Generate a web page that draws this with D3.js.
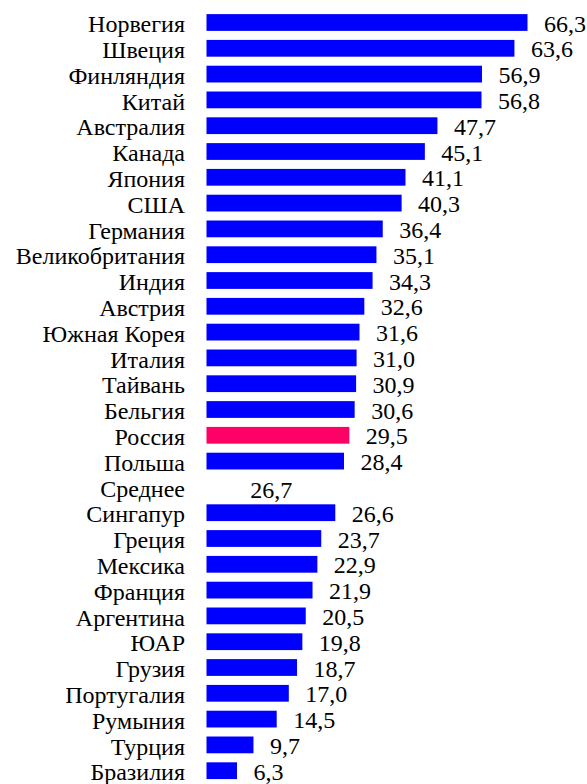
<!DOCTYPE html>
<html>
<head>
<meta charset="utf-8">
<script src="https://d3js.org/d3.v7.min.js"></script>
<style>
  body { margin: 0; background: #fff; }
</style>
</head>
<body>
<div id="chart"></div>
<script>
var countries = ["Норвегия", "Швеция", "Финляндия", "Китай", "Австралия", "Канада", "Япония", "США",
  "Германия", "Великобритания", "Индия", "Австрия", "Южная Корея", "Италия", "Тайвань", "Бельгия",
  "Россия", "Польша", "Среднее", "Сингапур", "Греция", "Мексика", "Франция", "Аргентина", "ЮАР",
  "Грузия", "Португалия", "Румыния", "Турция", "Бразилия"];
var values = [66.3, 63.6, 56.9, 56.8, 47.7, 45.1, 41.1, 40.3, 36.4, 35.1, 34.3, 32.6, 31.6, 31.0, 30.9, 30.6,
  29.5, 28.4, 26.7, 26.6, 23.7, 22.9, 21.9, 20.5, 19.8, 18.7, 17.0, 14.5, 9.7, 6.3];
var highlight = "Россия";
var average = "Среднее";

var width = 587, height = 784;
var font = "'Liberation Serif', 'Times New Roman', serif";

var data = countries.map(function(c, i) { return { name: c, value: values[i] }; });

var svg = d3.select("#chart").append("svg").attr("width", width).attr("height", height);

var x = d3.scaleLinear().domain([0, 66.3]).range([206.5, 527.5]);
var y = d3.scaleBand().domain(countries).range([9.6, 783.6]).paddingInner(0.35).paddingOuter(0.175);

var fmt = function(v) { return d3.format(".1f")(v).replace(".", ","); };

// bars (no bar for the average row)
svg.selectAll("rect.bar")
  .data(data.filter(function(d) { return d.name !== average; }))
  .enter().append("rect")
  .attr("class", "bar")
  .attr("x", x(0))
  .attr("y", function(d) { return y(d.name); })
  .attr("width", function(d) { return x(d.value) - x(0); })
  .attr("height", y.bandwidth())
  .attr("fill", function(d) { return d.name === highlight ? "#ff0066" : "#0000ff"; });

// category labels
svg.selectAll("text.cat")
  .data(data)
  .enter().append("text")
  .attr("class", "cat")
  .attr("x", 185)
  .attr("y", function(d) { return y(d.name) + y.bandwidth() / 2; })
  .attr("dy", "0.4em")
  .attr("text-anchor", "end")
  .attr("font-family", font)
  .attr("font-size", 24)
  .attr("fill", "#000")
  .text(function(d) { return d.name; });

// value labels
svg.selectAll("text.val")
  .data(data)
  .enter().append("text")
  .attr("class", "val")
  .attr("x", function(d) { return d.name === average ? x(d.value / 2) : x(d.value) + 16.5; })
  .attr("y", function(d) { return y(d.name) + y.bandwidth() / 2; })
  .attr("dy", function(d) { return d.name === average ? "0.46em" : "0.38em"; })
  .attr("text-anchor", function(d) { return d.name === average ? "middle" : "start"; })
  .attr("font-family", font)
  .attr("font-size", 24)
  .attr("fill", "#000")
  .text(function(d) { return fmt(d.value); });
</script>
</body>
</html>
